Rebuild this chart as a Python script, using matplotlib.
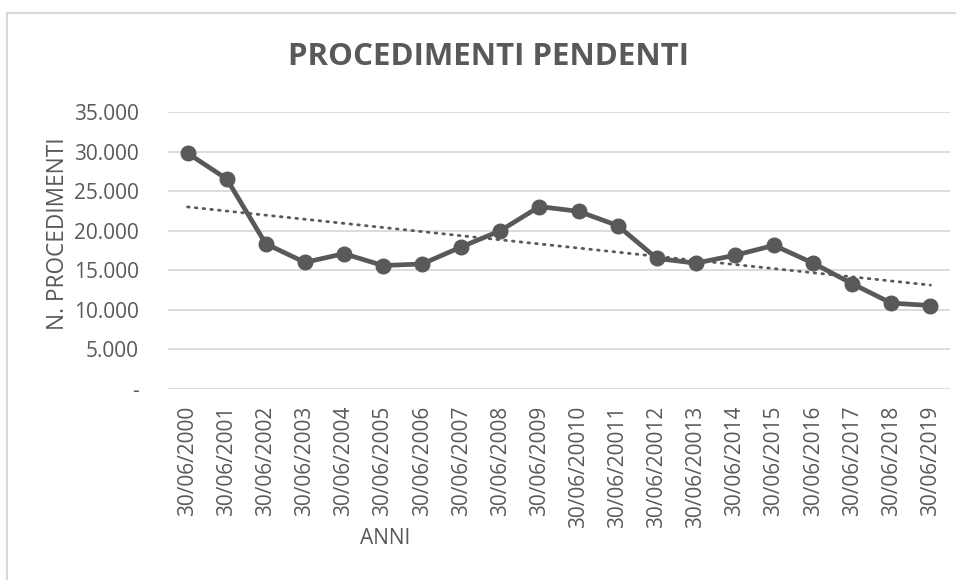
import numpy as np
import matplotlib.pyplot as plt
from matplotlib.lines import Line2D

# dati
date = ['30/06/2000', '30/06/2001', '30/06/2002', '30/06/2003', '30/06/2004',
        '30/06/2005', '30/06/2006', '30/06/2007', '30/06/2008', '30/06/2009',
        '30/06/20010', '30/06/20011', '30/06/20012', '30/06/20013', '30/06/2014',
        '30/06/2015', '30/06/2016', '30/06/2017', '30/06/2018', '30/06/2019']
pendenti = [29800, 26550, 18350, 16000, 17100, 15600, 15800, 17950, 20000, 23050,
            22450, 20650, 16500, 15900, 16900, 18150, 15900, 13300, 10850, 10550]
y_ticks = [0, 5000, 10000, 15000, 20000, 25000, 30000, 35000]

grigio = '#595959'

fig = plt.figure(figsize=(9.56, 5.8), dpi=100)
W, H = 956, 580
ax = fig.add_axes([168 / W, 1 - 389 / H, (950 - 168) / W, (389 - 112) / H])

x = np.arange(len(date))
ax.plot(x, pendenti, color=grigio, lw=3.4, marker='o', ms=10.5, zorder=3)

# linea di tendenza lineare
coef = np.polyfit(x, pendenti, 1)
ax.plot(x, np.polyval(coef, x), color=grigio, lw=2, ls=(0, (0.6, 2.2)),
        dash_capstyle='round', zorder=2)

ax.set_xlim(-0.5, len(date) - 0.5)
ax.set_ylim(0, 35000)
ax.set_yticks(y_ticks)
ax.set_yticklabels(['-' if v == 0 else f'{v:,}'.replace(',', '.') for v in y_ticks])
ax.set_xticks(x)
ax.set_xticklabels(date, rotation=90, va='top', ha='center')

ax.grid(axis='y', color='#d9d9d9', lw=1.3)
ax.set_axisbelow(True)
for s in ax.spines.values():
    s.set_visible(False)
ax.tick_params(axis='both', length=0, colors=grigio, labelsize=15)
ax.tick_params(axis='y', pad=21)
ax.tick_params(axis='x', pad=12)
for lab in ax.get_xticklabels() + ax.get_yticklabels():
    lab.set_fontfamily('Open Sans')

ax.set_ylabel('N. PROCEDIMENTI', color=grigio, fontsize=16.3, family='Open Sans')
ax.yaxis.set_label_coords(-(168 - 58) / (950 - 168), (389 - 233.5) / (389 - 112))
ax.yaxis.label.set_va('center')

fig.text(385 / W, 1 - 539 / H, 'ANNI', color=grigio, fontsize=15,
         family='Open Sans', ha='center', va='center')
fig.text(488 / W, 1 - 57 / H, 'PROCEDIMENTI PENDENTI', color=grigio, fontsize=22.5,
         family='Open Sans', weight='bold', ha='center', va='center')

# cornice del grafico
fig.add_artist(Line2D([7 / W, 7 / W], [0, 1 - 13 / H], color='#d9d9d9', lw=1.5))
fig.add_artist(Line2D([7 / W, 1], [1 - 13 / H, 1 - 13 / H], color='#d9d9d9', lw=1.5))

fig.savefig('out.png', dpi=100)
